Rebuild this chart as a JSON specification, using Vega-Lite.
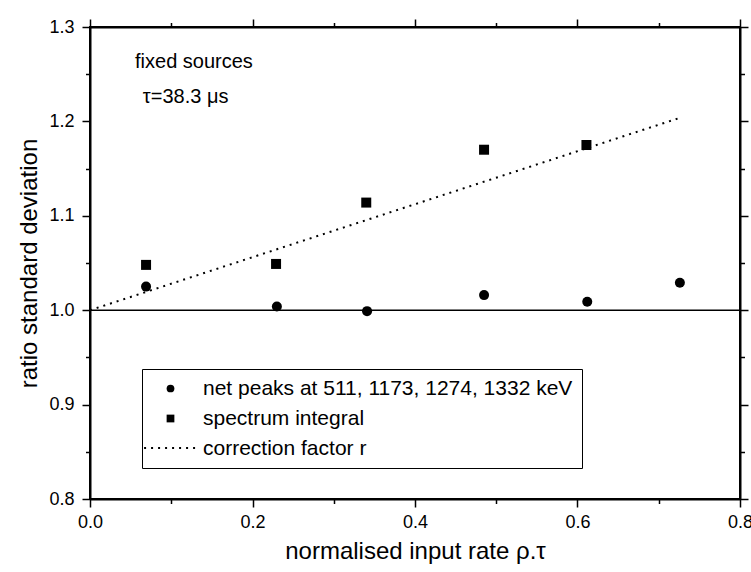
{
  "$schema": "https://vega.github.io/schema/vega-lite/v6.json",
  "width": 650,
  "height": 472,
  "autosize": "none",
  "padding": {"left": 90, "top": 27, "right": 11, "bottom": 73},
  "background": "white",
  "config": {
    "view": {"stroke": "black", "strokeWidth": 2},
    "font": "Liberation Sans",
    "axis": {
      "domainColor": "black", "domainWidth": 2,
      "tickColor": "black", "tickWidth": 1.5,
      "labelColor": "black", "titleColor": "black",
      "labelFont": "Liberation Sans", "titleFont": "Liberation Sans",
      "labelFontSize": 18, "titleFontSize": 24, "titleFontWeight": "normal",
      "grid": false, "labelOverlap": false, "labelFlush": false
    }
  },
  "datasets": {
    "measured": [
      {"series": "net peaks at 511, 1173, 1274, 1332 keV", "x": 0.069, "y": 1.025},
      {"series": "net peaks at 511, 1173, 1274, 1332 keV", "x": 0.230, "y": 1.004},
      {"series": "net peaks at 511, 1173, 1274, 1332 keV", "x": 0.341, "y": 0.999},
      {"series": "net peaks at 511, 1173, 1274, 1332 keV", "x": 0.485, "y": 1.016},
      {"series": "net peaks at 511, 1173, 1274, 1332 keV", "x": 0.612, "y": 1.009},
      {"series": "net peaks at 511, 1173, 1274, 1332 keV", "x": 0.726, "y": 1.029},
      {"series": "spectrum integral", "x": 0.069, "y": 1.048},
      {"series": "spectrum integral", "x": 0.229, "y": 1.049},
      {"series": "spectrum integral", "x": 0.340, "y": 1.114},
      {"series": "spectrum integral", "x": 0.485, "y": 1.170},
      {"series": "spectrum integral", "x": 0.611, "y": 1.175}
    ],
    "fit": [
      {"series": "correction factor r", "x": 0.0, "y": 1.0},
      {"series": "correction factor r", "x": 0.725, "y": 1.2035}
    ],
    "baseline": [{"y": 1.0}],
    "notes": [
      {"x": 0.0554, "y": 1.2565, "text": "fixed sources"},
      {"x": 0.065, "y": 1.2194, "text": "τ=38.3 μs"}
    ]
  },
  "layer": [
    {
      "data": {"name": "measured"},
      "mark": {"type": "point", "filled": true, "color": "black", "size": 100, "opacity": 1},
      "encoding": {
        "x": {
          "field": "x", "type": "quantitative",
          "scale": {"domain": [0, 0.8], "nice": false, "zero": false},
          "axis": {
            "orient": "bottom",
            "title": "normalised input rate ρ.τ",
            "values": [0, 0.1, 0.2, 0.3, 0.4, 0.5, 0.6, 0.7, 0.8],
            "labelExpr": "abs(datum.value*5 - round(datum.value*5)) < 0.001 ? format(datum.value, '.1f') : ''",
            "tickSize": {"condition": {"test": "abs(datum.value*5 - round(datum.value*5)) < 0.001", "value": 8}, "value": 4.5},
            "labelPadding": 6,
            "titlePadding": 8
          }
        },
        "y": {
          "field": "y", "type": "quantitative",
          "scale": {"domain": [0.8, 1.3], "nice": false, "zero": false},
          "axis": {
            "orient": "left",
            "title": "ratio standard deviation",
            "values": [0.8, 0.85, 0.9, 0.95, 1.0, 1.05, 1.1, 1.15, 1.2, 1.25, 1.3],
            "labelExpr": "abs(datum.value*10 - round(datum.value*10)) < 0.001 ? format(datum.value, '.1f') : ''",
            "tickSize": {"condition": {"test": "abs(datum.value*10 - round(datum.value*10)) < 0.001", "value": 8}, "value": 4.5},
            "labelPadding": 8,
            "titlePadding": 7
          }
        },
        "shape": {
          "field": "series", "type": "nominal",
          "scale": {
            "domain": ["net peaks at 511, 1173, 1274, 1332 keV", "spectrum integral", "correction factor r"],
            "range": ["circle", "square", "stroke"]
          },
          "legend": {
            "title": null,
            "orient": "none",
            "legendX": 52,
            "legendY": 342,
            "padding": 9,
            "symbolOffset": 9,
            "labelOffset": 22,
            "labelFontSize": 21,
            "labelFont": "Liberation Sans",
            "labelColor": "black",
            "labelLimit": 600,
            "symbolSize": 60,
            "rowPadding": 8,
            "strokeColor": "black",
            "encode": {
              "legend": {"strokeWidth": {"value": 1.5}, "fill": {"value": "white"}}
            }
          }
        }
      }
    },
    {
      "data": {"name": "fit"},
      "mark": {"type": "line", "color": "black", "strokeWidth": 2},
      "encoding": {
        "x": {
          "field": "x", "type": "quantitative",
          "scale": {"domain": [0, 0.8], "nice": false, "zero": false},
          "axis": {
            "orient": "top", "title": null, "labels": false,
            "values": [0, 0.1, 0.2, 0.3, 0.4, 0.5, 0.6, 0.7, 0.8],
            "tickSize": {"condition": {"test": "abs(datum.value*5 - round(datum.value*5)) < 0.001", "value": 8}, "value": 4.5}
          }
        },
        "y": {
          "field": "y", "type": "quantitative",
          "scale": {"domain": [0.8, 1.3], "nice": false, "zero": false},
          "axis": {
            "orient": "right", "title": null, "labels": false,
            "values": [0.8, 0.85, 0.9, 0.95, 1.0, 1.05, 1.1, 1.15, 1.2, 1.25, 1.3],
            "tickSize": {"condition": {"test": "abs(datum.value*10 - round(datum.value*10)) < 0.001", "value": 8}, "value": 4.5}
          }
        },
        "strokeDash": {
          "field": "series", "type": "nominal",
          "scale": {"domain": ["correction factor r"], "range": [[2, 5]]},
          "legend": {
            "title": null,
            "orient": "none",
            "legendX": 53,
            "legendY": 393,
            "padding": 0,
            "symbolOffset": 0,
            "symbolType": "stroke",
            "symbolSize": 2900,
            "symbolStrokeWidth": 2,
            "symbolStrokeColor": "black",
            "labelExpr": "''",
            "labelFontSize": 1
          }
        }
      }
    },
    {
      "data": {"name": "baseline"},
      "mark": {"type": "rule", "color": "black", "strokeWidth": 1.5},
      "encoding": {
        "y": {"field": "y", "type": "quantitative", "axis": null}
      }
    },
    {
      "data": {"name": "notes"},
      "mark": {"type": "text", "align": "left", "baseline": "alphabetic", "fontSize": 20, "font": "Liberation Sans", "color": "black"},
      "encoding": {
        "x": {"field": "x", "type": "quantitative", "axis": null},
        "y": {"field": "y", "type": "quantitative", "axis": null},
        "text": {"field": "text"}
      }
    }
  ],
  "resolve": {"axis": {"x": "independent", "y": "independent"}}
}
